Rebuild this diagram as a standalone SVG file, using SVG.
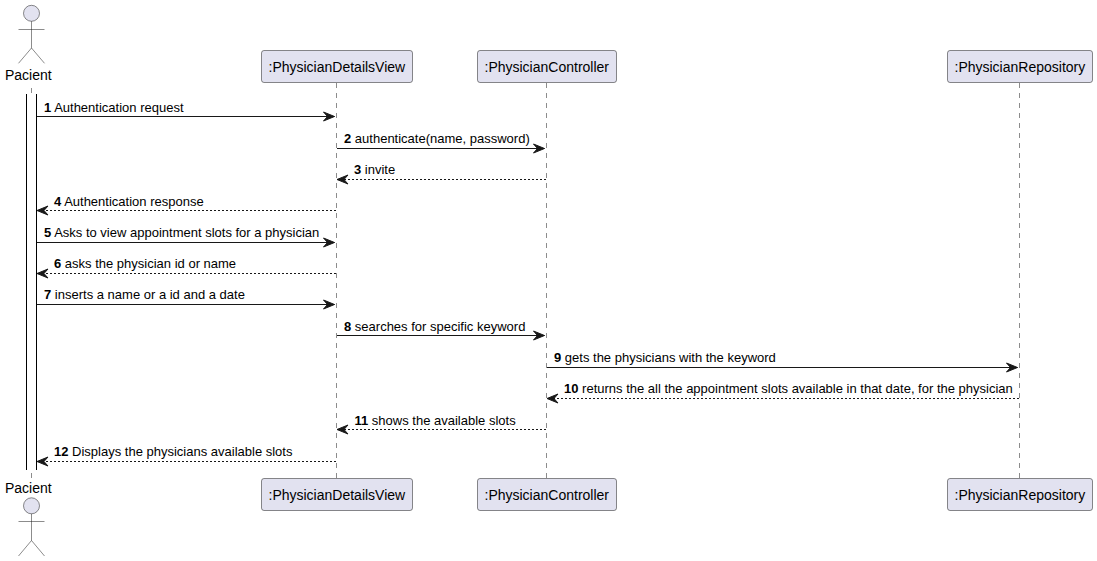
<svg xmlns="http://www.w3.org/2000/svg" width="1097" height="561" viewBox="0 0 1097 561">
<style>
text{font-family:"Liberation Sans",Arial,sans-serif;font-size:13px;fill:#000}
.n{font-weight:bold}
.head{font-size:14px}
.box{fill:#E2E2F0;stroke:#181818;stroke-width:.5}
.life{stroke:#181818;stroke-width:.5;stroke-dasharray:5,5;fill:none}
.m{stroke:#181818;stroke-width:1;fill:none;marker-end:url(#ah)}
.r{stroke-dasharray:2,2}
.actor circle{fill:#E2E2F0;stroke:#181818;stroke-width:.5}
.actor path{fill:none;stroke:#181818;stroke-width:.5}
</style>
<defs>
<marker id="ah" markerUnits="userSpaceOnUse" markerWidth="16" markerHeight="14" refX="13" refY="7" orient="auto">
<polygon points="2,2.500 13,7 2,11.500 6,7" fill="#181818" stroke="#181818" stroke-width="1"/>
</marker>
</defs>
<g id="lifelines">
<path class="life" d="M31.500 88V93"/>
<path class="life" d="M31.500 473V478"/>
<path class="life" d="M336.500 83V478"/>
<path class="life" d="M546.500 83V478"/>
<path class="life" d="M1019.500 83V478"/>
</g>
<g id="activation">
<rect x="26.500" y="94" width="10" height="376" fill="#fff"/>
<path d="M26.500 94V470M36.500 94V470" stroke="#000" stroke-width="1" fill="none"/>
</g>
<g id="pacient-top" class="actor">
<circle cx="31.500" cy="13.300" r="8"/>
<path d="M31.500 21.300V48M18.500 29.500H44.500M31.500 48L18.500 63.300M31.500 48L44.500 63.300"/>
<text class="head" x="5" y="80">Pacient</text>
</g>
<g id="pacient-bottom" class="actor">
<text class="head" x="5" y="493">Pacient</text>
<circle cx="31.500" cy="505.800" r="8"/>
<path d="M31.500 513.800V540.500M18.500 521.500H44.500M31.500 540.500L18.500 556M31.500 540.500L44.500 556"/>
</g>
<g id="view-top"><rect class="box" x="261.500" y="50.500" width="151" height="32" rx="2.500"/><text class="head" x="268.500" y="72">:PhysicianDetailsView</text></g>
<g id="controller-top"><rect class="box" x="477.500" y="50.500" width="139" height="32" rx="2.500"/><text class="head" x="484.500" y="72">:PhysicianController</text></g>
<g id="repository-top"><rect class="box" x="947.500" y="50.500" width="145" height="32" rx="2.500"/><text class="head" x="954.500" y="72">:PhysicianRepository</text></g>
<g id="view-bottom"><rect class="box" x="261.500" y="478.500" width="151" height="32" rx="2.500"/><text class="head" x="268.500" y="500">:PhysicianDetailsView</text></g>
<g id="controller-bottom"><rect class="box" x="477.500" y="478.500" width="139" height="32" rx="2.500"/><text class="head" x="484.500" y="500">:PhysicianController</text></g>
<g id="repository-bottom"><rect class="box" x="947.500" y="478.500" width="145" height="32" rx="2.500"/><text class="head" x="954.500" y="500">:PhysicianRepository</text></g>
<g id="connectors">
<path class="m" d="M37 116.500H334.500"/>
<path class="m" d="M337 148.500H544.500"/>
<path class="m r" d="M546 179.500H337"/>
<path class="m r" d="M336 210.500H37"/>
<path class="m" d="M37 242.500H334.500"/>
<path class="m r" d="M336 273.500H37"/>
<path class="m" d="M37 304.500H334.500"/>
<path class="m" d="M337 335.500H544.500"/>
<path class="m" d="M547 367.500H1017.500"/>
<path class="m r" d="M1019 398.500H547"/>
<path class="m r" d="M546 429.500H337"/>
<path class="m r" d="M336 461.500H37"/>
</g>
<g id="labels">
<text x="44" y="112"><tspan class="n">1</tspan> Authentication request</text>
<text x="344" y="143"><tspan class="n">2</tspan> authenticate(name, password)</text>
<text x="354" y="174"><tspan class="n">3</tspan> invite</text>
<text x="54" y="206"><tspan class="n">4</tspan> Authentication response</text>
<text x="44" y="237"><tspan class="n">5</tspan> Asks to view appointment slots for a physician</text>
<text x="54" y="268"><tspan class="n">6</tspan> asks the physician id or name</text>
<text x="44" y="299"><tspan class="n">7</tspan> inserts a name or a id and a date</text>
<text x="344" y="331"><tspan class="n">8</tspan> searches for specific keyword</text>
<text x="554" y="362"><tspan class="n">9</tspan> gets the physicians with the keyword</text>
<text x="564" y="393"><tspan class="n">10</tspan> returns the all the appointment slots available in that date, for the physician</text>
<text x="354.500" y="425"><tspan class="n">11</tspan> shows the available slots</text>
<text x="54" y="456"><tspan class="n">12</tspan> Displays the physicians available slots</text>
</g>
</svg>
